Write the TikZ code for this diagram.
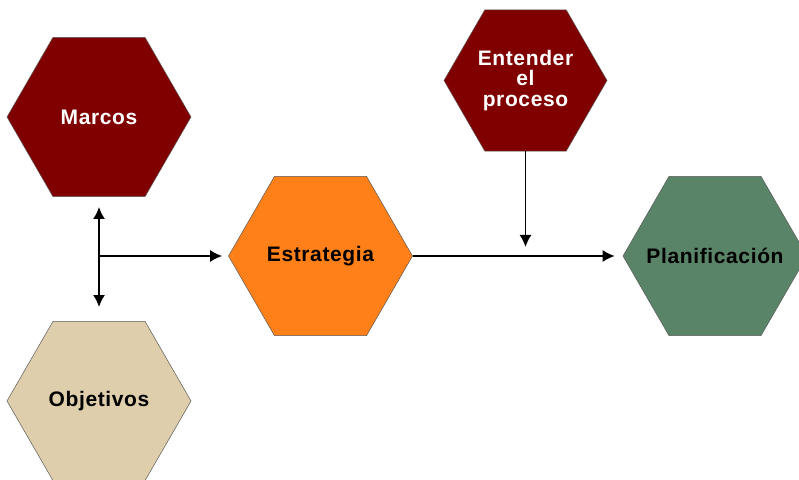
\documentclass[tikz,border=0pt]{standalone}
\usepackage{fontspec}
\setmainfont[LetterSpace=3]{Liberation Sans}
\usepackage{tikz}
\usetikzlibrary{shapes.geometric,arrows.meta,positioning,calc}
\definecolor{hexred}{RGB}{128,0,0}
\definecolor{hexorange}{RGB}{255,128,25}
\definecolor{hexbeige}{RGB}{222,206,171}
\definecolor{hexgreen}{RGB}{90,132,104}
\tikzstyle{HEX} = [regular polygon, regular polygon sides=6, minimum size=184pt, inner sep=0pt, draw=black!65, line width=0.5pt, align=center, font=\fontsize{21}{20.5}\selectfont\bfseries]
\tikzstyle{HEX_RED} = [HEX, fill=hexred, text=white]
\tikzstyle{HEX_ORANGE} = [HEX, fill=hexorange]
\tikzstyle{HEX_BEIGE} = [HEX, fill=hexbeige]
\tikzstyle{HEX_GREEN} = [HEX, fill=hexgreen, inner xsep=-30pt]
\tikzstyle{LINE} = [draw, line width=1.8pt, -{Latex[length=12pt,width=12pt]}]
\begin{document}
\begin{tikzpicture}[x=1pt, y=1pt, node distance=284pt]
\useasboundingbox (0,0) rectangle (799,479);
% Place nodes
\node [HEX_RED] (marcos) at (99,362) {Marcos};
\node [HEX_BEIGE, below of=marcos] (objetivos) {Objetivos};
\node [HEX_ORANGE] (estrategia) at (320.5,223) {Estrategia};
\node [HEX_RED, minimum size=163pt] (entender) at (525.5,398.5) {Entender\\el\\proceso};
\node [HEX_GREEN] (planif) at (715,223) {Planificación};
\coordinate (junc) at (marcos.south |- estrategia.west);
\coordinate (merge) at (entender.south |- estrategia.east);
% LINES and ARROWS
\path [LINE, shorten >=10pt] (junc) -- (marcos.south);
\path [LINE, shorten >=14pt] (junc) -- (objetivos.north);
\path [LINE, shorten >=6pt] (junc) -- (estrategia.west);
\path [LINE, shorten >=8pt] (estrategia.east) -- (planif.west);
\path [LINE, shorten >=9pt] (entender.south) -- (merge);
\end{tikzpicture}
\end{document}
